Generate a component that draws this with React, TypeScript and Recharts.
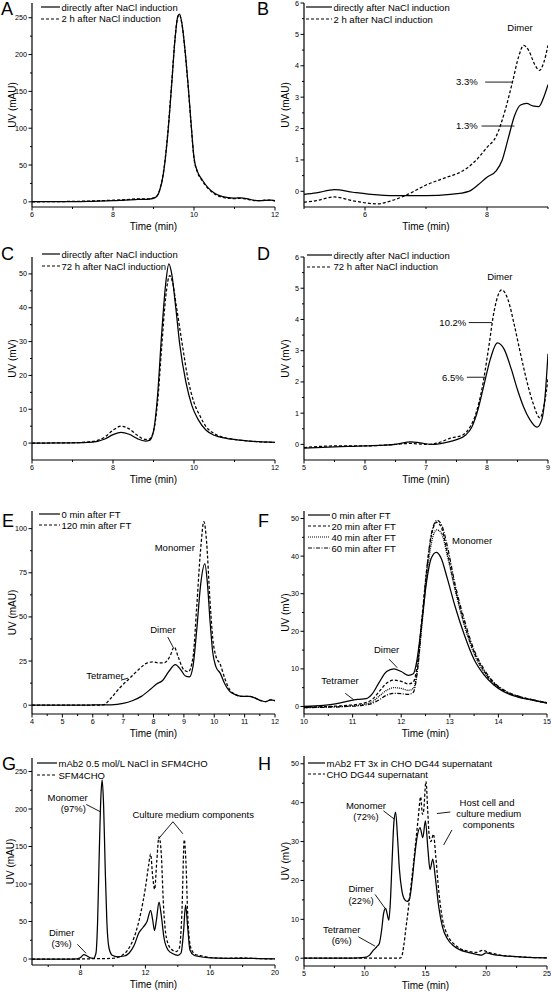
import React from 'react';
import { LineChart, Line, XAxis, YAxis, ReferenceLine, ReferenceDot } from 'recharts';

const FONT = '"Liberation Sans", Arial, Helvetica, sans-serif';
type P = [number, number];

// ---------- Panel A ----------
const aLegend = ['directly after NaCl induction', '2 h after NaCl induction'];
const aDirect: P[] = [[6,0.3],[6.5,0.2],[7,0.3],[7.5,0.8],[8,1.5],[8.3,2.5],[8.6,3.2],[8.9,3.8],[9.05,6],[9.15,15],[9.25,40],[9.35,90],[9.45,160],[9.53,220],[9.6,252],[9.64,255],[9.7,243],[9.78,205],[9.86,155],[9.93,105],[10.0,60],[10.08,42],[10.2,30],[10.35,19],[10.5,12],[10.65,8],[10.8,6],[11.0,5],[11.15,5.5],[11.3,4.5],[11.45,2.5],[11.6,1.5],[11.75,2],[11.9,2.2],[12,1]];
const a2h: P[] = [[6,0],[6.5,0.3],[7,0.6],[7.5,1.2],[8,2.2],[8.3,3],[8.6,4],[8.9,4.2],[9.05,6.5],[9.15,16],[9.25,42],[9.35,92],[9.45,162],[9.53,221],[9.6,251],[9.64,254],[9.7,242],[9.78,204],[9.86,154],[9.93,104],[10.0,59],[10.08,41],[10.2,29],[10.35,18],[10.5,11],[10.65,7],[10.8,5],[11.0,4.5],[11.15,4.8],[11.3,3.5],[11.45,2],[11.6,1.5],[11.75,2.2],[11.9,2.5],[12,1.5]];

// ---------- Panel B ----------
const bDirect: P[] = [[5.0,-0.1],[5.2,-0.05],[5.5,0.05],[5.8,-0.03],[6.1,-0.1],[6.5,-0.14],[7.0,-0.14],[7.4,-0.1],[7.7,0.0],[7.85,0.2],[8.0,0.45],[8.15,0.65],[8.25,1.0],[8.35,1.7],[8.45,2.4],[8.55,2.75],[8.65,2.8],[8.75,2.72],[8.85,2.7],[8.93,3.0],[9.0,3.4]];
const b2h: P[] = [[5.0,-0.35],[5.2,-0.3],[5.5,-0.18],[5.8,-0.3],[6.2,-0.4],[6.4,-0.32],[6.7,-0.1],[7.0,0.2],[7.3,0.42],[7.6,0.65],[7.8,0.95],[8.0,1.4],[8.15,1.75],[8.3,2.6],[8.42,3.5],[8.52,4.3],[8.6,4.65],[8.68,4.5],[8.78,4.05],[8.86,3.85],[8.93,4.1],[9.0,4.65]];

// ---------- Panel C ----------
const cLegend = ['directly after NaCl induction', '72 h after NaCl induction'];
const cDirect: P[] = [[6,0],[7,0.05],[7.5,0.3],[7.8,1.2],[8.0,2.5],[8.2,3.2],[8.4,2.6],[8.6,1.3],[8.8,0.6],[8.9,0.8],[9.0,3.5],[9.1,14],[9.2,32],[9.3,47],[9.38,53],[9.45,50],[9.55,40],[9.65,29],[9.8,18],[9.95,11],[10.1,7],[10.3,3.8],[10.5,2.3],[10.8,1.4],[11.2,0.8],[11.6,0.4],[12,0.2]];
const c72h: P[] = [[6,0],[7,0.1],[7.5,0.5],[7.8,1.8],[8.0,3.8],[8.2,5],[8.4,4.2],[8.6,2.3],[8.8,1.1],[8.9,1.2],[9.0,3.5],[9.1,12],[9.2,28],[9.3,43],[9.4,49.5],[9.47,47.5],[9.57,40],[9.7,30],[9.85,19],[10.0,12],[10.15,8],[10.3,4.8],[10.5,2.8],[10.8,1.5],[11.2,0.8],[11.6,0.4],[12,0.2]];

// ---------- Panel D ----------
const dDirect: P[] = [[5,-0.12],[5.5,-0.08],[6,-0.05],[6.5,0.0],[6.75,0.08],[6.9,0.05],[7.1,0.0],[7.3,0.05],[7.5,0.15],[7.65,0.3],[7.75,0.55],[7.85,1.1],[7.95,1.9],[8.05,2.7],[8.17,3.25],[8.28,3.05],[8.4,2.4],[8.5,1.75],[8.6,1.2],[8.7,0.8],[8.82,0.55],[8.9,0.8],[8.95,1.5],[9.0,2.9]];
const d72h: P[] = [[5,-0.1],[5.5,-0.05],[6,-0.05],[6.5,0.0],[6.75,0.03],[7.0,0.0],[7.2,0.05],[7.4,0.2],[7.6,0.3],[7.72,0.55],[7.82,1.0],[7.92,1.8],[8.02,3.0],[8.12,4.3],[8.24,4.95],[8.35,4.6],[8.45,3.8],[8.55,2.9],[8.65,2.05],[8.75,1.35],[8.87,0.85],[8.94,1.3],[9.0,2.1]];

// ---------- Panel E ----------
const eLegend = ['0 min after FT', '120 min after FT'];
const e0: P[] = [[4,0],[5,0],[6,0.1],[6.6,0.2],[7.0,1],[7.3,2.5],[7.6,5],[7.9,9],[8.1,12],[8.3,14],[8.5,19],[8.72,23],[8.9,20],[9.05,16.5],[9.18,16],[9.3,22],[9.42,42],[9.55,68],[9.69,80],[9.78,68],[9.86,48],[9.95,30],[10.05,22],[10.2,18],[10.35,12],[10.5,8],[10.7,6],[10.9,5],[11.15,5],[11.35,4],[11.55,2.5],[11.7,2],[11.85,3],[12,2.5]];
const e120: P[] = [[4,0],[5,0],[6,0],[6.35,0.2],[6.6,4],[6.9,10],[7.2,15],[7.5,20],[7.8,24],[8.0,24.5],[8.15,24],[8.35,24],[8.55,28],[8.68,33],[8.82,27],[9.0,20],[9.15,19],[9.3,27],[9.42,55],[9.55,88],[9.66,104],[9.75,92],[9.85,62],[9.95,38],[10.05,28],[10.2,23],[10.35,15],[10.5,9],[10.7,6],[10.9,5],[11.15,5],[11.35,4],[11.55,2.5],[11.7,2],[11.85,3],[12,2.5]];

// ---------- Panel F ----------
const fLegend = ['0 min after FT', '20 min after FT', '40 min after FT', '60 min after FT'];
const f0: P[] = [[10,0],[10.4,0.3],[10.7,0.8],[10.9,1.4],[11.1,1.9],[11.28,2.1],[11.4,3.3],[11.55,6.5],[11.7,9.3],[11.85,10],[12.0,9.3],[12.15,8.3],[12.25,8.7],[12.32,12],[12.42,22],[12.52,33],[12.62,39.5],[12.72,41],[12.82,39.5],[12.95,34],[13.1,27],[13.3,19],[13.5,12.5],[13.7,8.5],[13.9,5.8],[14.1,4],[14.4,2.5],[14.7,1.7],[15,0.9]];
const f20: P[] = [[10,-0.2],[10.5,0],[10.9,0.3],[11.2,0.8],[11.4,1.8],[11.55,4],[11.7,6.2],[11.85,7],[12.0,6.7],[12.15,6],[12.25,6.5],[12.33,11],[12.43,24],[12.53,37],[12.63,46],[12.73,49],[12.83,47.5],[12.95,41],[13.1,32],[13.3,22],[13.5,14.5],[13.7,9.5],[13.9,6.3],[14.1,4.3],[14.4,2.7],[14.7,1.8],[15,1]];
const f40: P[] = [[10,-0.3],[10.5,-0.1],[10.9,0.1],[11.2,0.5],[11.4,1.2],[11.55,2.8],[11.7,4.3],[11.85,5],[12.0,4.8],[12.15,4.3],[12.25,4.8],[12.33,9.5],[12.43,22],[12.53,35],[12.63,44],[12.73,47],[12.83,46],[12.95,40],[13.1,31.5],[13.3,21.5],[13.5,14],[13.7,9.2],[13.9,6.1],[14.1,4.2],[14.4,2.6],[14.7,1.7],[15,0.9]];
const f60: P[] = [[10,-0.3],[10.5,-0.2],[10.9,0],[11.2,0.3],[11.4,0.8],[11.55,1.8],[11.7,3],[11.85,3.5],[12.0,3.4],[12.15,3.2],[12.25,3.8],[12.33,9],[12.43,23],[12.53,37],[12.63,46.5],[12.74,49.5],[12.84,48],[12.96,42],[13.1,33],[13.3,23],[13.5,15],[13.7,10],[13.9,6.5],[14.1,4.5],[14.4,2.8],[14.7,1.8],[15,1]];

// ---------- Panel G ----------
const gLegend = ['mAb2 0.5 mol/L NaCl in SFM4CHO', 'SFM4CHO'];
const gMab: P[] = [[5,0],[6,0],[7,0],[7.8,0.3],[8.0,2],[8.2,5.8],[8.4,4],[8.6,1.5],[8.8,1],[8.95,8],[9.05,50],[9.15,140],[9.25,215],[9.33,239],[9.42,205],[9.52,120],[9.62,50],[9.75,15],[9.95,5],[10.3,3],[10.7,4],[11.0,8],[11.3,18],[11.6,35],[11.85,42],[12.1,50],[12.32,65],[12.45,52],[12.56,38],[12.68,52],[12.84,76],[12.98,58],[13.15,28],[13.4,12],[13.7,7],[14.0,5],[14.2,8],[14.35,35],[14.48,72],[14.6,45],[14.75,12],[15.0,5],[15.4,3],[16,1.5],[17,1],[18,1],[19,0.5],[20,0]];
const gMedium: P[] = [[5,0],[7,0],[8,0],[9,0.5],[9.5,0.5],[10,1],[10.5,4],[11.0,15],[11.4,35],[11.7,60],[12.0,95],[12.2,125],[12.32,140],[12.45,110],[12.57,93],[12.7,130],[12.84,163],[12.98,140],[13.12,70],[13.3,28],[13.6,13],[13.9,10],[14.1,15],[14.25,60],[14.4,159],[14.5,130],[14.62,55],[14.8,15],[15.1,6],[15.5,4],[16,2],[17,1],[18,1.5],[19,0.5],[20,0]];

// ---------- Panel H ----------
const hLegend = ['mAb2 FT 3x in CHO DG44 supernatant', 'CHO DG44 supernatant'];
const hMab: P[] = [[5,0],[7,0],[9,0],[10,0.2],[10.4,0.8],[10.7,2],[11.0,3],[11.2,3.8],[11.4,7.5],[11.55,11.5],[11.72,12.8],[11.87,11],[11.98,9.8],[12.1,14],[12.25,25],[12.4,35],[12.54,37.6],[12.7,31],[12.85,23],[13.05,17.5],[13.3,15],[13.5,14.6],[13.7,15.5],[13.9,20],[14.1,26],[14.3,31],[14.55,33.6],[14.78,31],[14.99,35.3],[15.2,28],[15.37,22.8],[15.6,25.5],[15.8,21],[16.1,13],[16.4,8],[16.8,5],[17.3,3.2],[17.8,2.2],[18.5,1.5],[19.2,1],[19.6,0.8],[20.0,1.4],[20.5,1.0],[21.5,0.6],[23,0.3],[25,0.1]];
const hSup: P[] = [[5,0],[8,0],[12.9,0],[13.05,0.5],[13.2,3],[13.4,8],[13.6,13],[13.8,18.5],[14.0,24],[14.2,30],[14.4,36],[14.6,41.5],[14.75,37],[14.85,38],[15.04,45.5],[15.18,38],[15.3,31.7],[15.45,30],[15.65,31.9],[15.85,26],[16.1,17],[16.4,10],[16.8,6],[17.3,3.8],[17.8,2.6],[18.5,1.8],[19.2,1.5],[19.7,2.0],[20.2,1.5],[21,0.9],[22,0.5],[23,0.3],[25,0.1]];

// ---------- styles ----------
const SOLID = '';
const DASHED = '3 2';
const DOTTED = '1 1';
const DASHDOT = '4 1.5 1 1.5';

interface Series { name: string; data: P[]; dash: string }
interface Note { x: number; y: number; text: string }
interface Seg { x1: number; y1: number; x2: number; y2: number }
interface PanelCfg {
  letter: string; letterX: number; letterY: number;
  x1: number; x2: number; y1: number; y2: number; left: number;
  xDomain: [number, number]; yDomain: [number, number];
  xMajor: number[]; xMinor: number[]; yMajor: number[]; yMinor: number[];
  yTitle: string; titleX: number;
  series: Series[];
  legX: number; legY: number; legW: number; legH: number;
  notes: Note[]; segs: Seg[];
}

const range = (a: number, b: number, s: number) => {
  const out: number[] = [];
  for (let v = a; v <= b + 1e-9; v += s) out.push(Math.round(v * 1000) / 1000);
  return out;
};

const panels: PanelCfg[] = [
  {
    letter: 'A', letterX: 1, letterY: 15, left: 0,
    x1: 32, x2: 275, y1: 3, y2: 207,
    xDomain: [6, 12], yDomain: [-7, 270],
    xMajor: [6, 8, 10, 12], xMinor: [7, 9, 11], yMajor: range(0, 250, 50), yMinor: range(25, 225, 50),
    yTitle: 'UV (mAU)', titleX: 12,
    series: [{ name: aLegend[0], data: aDirect, dash: SOLID }, { name: aLegend[1], data: a2h, dash: DASHED }],
    legX: 41, legY: 7, legW: 19, legH: 11.5,
    notes: [], segs: [],
  },
  {
    letter: 'B', letterX: 257, letterY: 15, left: 277,
    x1: 304, x2: 548, y1: 3, y2: 207,
    xDomain: [5, 9], yDomain: [-0.5, 6],
    xMajor: [6, 8], xMinor: [5, 7, 9], yMajor: range(0, 6, 1), yMinor: range(0.5, 5.5, 1),
    yTitle: 'UV (mAU)', titleX: 285,
    series: [{ name: aLegend[0], data: bDirect, dash: SOLID }, { name: aLegend[1], data: b2h, dash: DASHED }],
    legX: 306, legY: 7, legW: 26, legH: 12,
    notes: [{ x: 8.54, y: 5.2, text: 'Dimer' }, { x: 7.67, y: 3.48, text: '3.3%' }, { x: 7.67, y: 2.08, text: '1.3%' }],
    segs: [{ x1: 7.97, y1: 3.48, x2: 8.41, y2: 3.48 }, { x1: 7.91, y1: 2.08, x2: 8.45, y2: 2.08 }],
  },
  {
    letter: 'C', letterX: 1, letterY: 260, left: 0,
    x1: 32, x2: 275, y1: 257, y2: 460,
    xDomain: [6, 12], yDomain: [-5, 55],
    xMajor: [6, 8, 10, 12], xMinor: [7, 9, 11], yMajor: range(0, 50, 10), yMinor: range(5, 45, 10),
    yTitle: 'UV (mV)', titleX: 12,
    series: [{ name: cLegend[0], data: cDirect, dash: SOLID }, { name: cLegend[1], data: c72h, dash: DASHED }],
    legX: 42, legY: 254, legW: 18, legH: 12,
    notes: [], segs: [],
  },
  {
    letter: 'D', letterX: 257, letterY: 260, left: 277,
    x1: 304, x2: 548, y1: 257, y2: 460,
    xDomain: [5, 9], yDomain: [-0.5, 6],
    xMajor: [5, 6, 7, 8, 9], xMinor: [5.5, 6.5, 7.5, 8.5], yMajor: range(0, 6, 1), yMinor: range(0.5, 5.5, 1),
    yTitle: 'UV (mV)', titleX: 285,
    series: [{ name: cLegend[0], data: dDirect, dash: SOLID }, { name: cLegend[1], data: d72h, dash: DASHED }],
    legX: 307, legY: 255, legW: 25, legH: 11.5,
    notes: [{ x: 8.21, y: 5.38, text: 'Dimer' }, { x: 7.44, y: 3.9, text: '10.2%' }, { x: 7.44, y: 2.15, text: '6.5%' }],
    segs: [{ x1: 7.7, y1: 3.9, x2: 8.08, y2: 3.9 }, { x1: 7.67, y1: 2.15, x2: 7.97, y2: 2.15 }],
  },
  {
    letter: 'E', letterX: 2, letterY: 527, left: 0,
    x1: 32, x2: 275, y1: 511, y2: 714,
    xDomain: [4, 12], yDomain: [-5, 110],
    xMajor: range(4, 12, 1), xMinor: range(4.5, 11.5, 1), yMajor: [0, 25, 50, 75, 100], yMinor: [12.5, 37.5, 62.5, 87.5],
    yTitle: 'UV (mAU)', titleX: 12,
    series: [{ name: eLegend[0], data: e0, dash: SOLID }, { name: eLegend[1], data: e120, dash: DASHED }],
    legX: 39, legY: 514, legW: 21, legH: 11,
    notes: [{ x: 8.7, y: 89, text: 'Monomer' }, { x: 8.31, y: 43, text: 'Dimer' }, { x: 6.4, y: 16.5, text: 'Tetramer' }],
    segs: [{ x1: 8.47, y1: 38.6, x2: 8.64, y2: 33 }, { x1: 6.93, y1: 14.2, x2: 7.16, y2: 15.3 }],
  },
  {
    letter: 'F', letterX: 258, letterY: 527, left: 277,
    x1: 304, x2: 547, y1: 510.5, y2: 713.5,
    xDomain: [10, 15], yDomain: [-2, 52],
    xMajor: range(10, 15, 1), xMinor: range(10.5, 14.5, 1), yMajor: range(0, 50, 10), yMinor: range(5, 45, 10),
    yTitle: 'UV (mV)', titleX: 285,
    series: [
      { name: fLegend[0], data: f0, dash: SOLID }, { name: fLegend[1], data: f20, dash: DASHED },
      { name: fLegend[2], data: f40, dash: DOTTED }, { name: fLegend[3], data: f60, dash: DASHDOT },
    ],
    legX: 308, legY: 515, legW: 22, legH: 11,
    notes: [{ x: 13.46, y: 44, text: 'Monomer' }, { x: 11.7, y: 15, text: 'Dimer' }, { x: 10.74, y: 6.9, text: 'Tetramer' }],
    segs: [{ x1: 11.75, y1: 12.6, x2: 11.92, y2: 10.3 }, { x1: 10.85, y1: 3.5, x2: 11.02, y2: 1.8 }],
  },
  {
    letter: 'G', letterX: 2, letterY: 770, left: 0,
    x1: 32, x2: 275, y1: 758, y2: 965,
    xDomain: [5, 20], yDomain: [-8, 268],
    xMajor: [8, 12, 16, 20], xMinor: [6, 10, 14, 18], yMajor: range(0, 250, 50), yMinor: range(25, 225, 50),
    yTitle: 'UV (mAU)', titleX: 10,
    series: [{ name: gLegend[0], data: gMab, dash: SOLID }, { name: gLegend[1], data: gMedium, dash: DASHED }],
    legX: 37, legY: 763, legW: 20, legH: 12,
    notes: [
      { x: 7.2, y: 215, text: 'Monomer' }, { x: 7.55, y: 200, text: '(97%)' },
      { x: 14.95, y: 192.5, text: 'Culture medium components' },
      { x: 6.83, y: 35, text: 'Dimer' }, { x: 6.83, y: 20, text: '(3%)' },
    ],
    segs: [
      { x1: 8.35, y1: 206, x2: 9.25, y2: 196 },
      { x1: 13.7, y1: 183, x2: 12.8, y2: 160 }, { x1: 13.7, y1: 183, x2: 14.31, y2: 167 },
      { x1: 7.8, y1: 19.6, x2: 8.34, y2: 7.6 },
    ],
  },
  {
    letter: 'H', letterX: 258, letterY: 770, left: 277,
    x1: 304, x2: 547, y1: 756, y2: 966,
    xDomain: [5, 25], yDomain: [-2, 52],
    xMajor: [5, 10, 15, 20, 25], xMinor: [7.5, 12.5, 17.5, 22.5], yMajor: range(0, 50, 10), yMinor: range(5, 45, 10),
    yTitle: 'UV (mV)', titleX: 285,
    series: [{ name: hLegend[0], data: hMab, dash: SOLID }, { name: hLegend[1], data: hSup, dash: DASHED }],
    legX: 308, legY: 763, legW: 17, legH: 11,
    notes: [
      { x: 10.1, y: 39.2, text: 'Monomer' }, { x: 10.1, y: 36.3, text: '(72%)' },
      { x: 9.7, y: 17.8, text: 'Dimer' }, { x: 9.7, y: 14.9, text: '(22%)' },
      { x: 8.1, y: 7.4, text: 'Tetramer' }, { x: 8.1, y: 4.6, text: '(6%)' },
      { x: 20.06, y: 39.9, text: 'Host cell and' }, { x: 20.2, y: 37.1, text: 'culture medium' }, { x: 20.2, y: 34.3, text: 'components' },
    ],
    segs: [
      { x1: 11.54, y1: 37.9, x2: 12.42, y2: 35.8 },
      { x1: 10.85, y1: 16.4, x2: 11.68, y2: 12.8 },
      { x1: 9.48, y1: 5.5, x2: 10.85, y2: 3.1 },
      { x1: 15.94, y1: 37.2, x2: 17.04, y2: 37.6 },
      { x1: 16.49, y1: 29.1, x2: 17.18, y2: 33 },
    ],
  },
];

const near = (arr: number[], v: number) => arr.some((m) => Math.abs(m - v) < 1e-6);

const makeXTick = (majors: number[]) => (props: any) => {
  const { x, y, payload } = props;
  const major = near(majors, payload.value);
  return (
    <g>
      <line x1={x} y1={y} x2={x} y2={y + (major ? 3.5 : 2)} stroke="#000" strokeWidth={1} />
      {major && (
        <text x={x} y={y + 10} textAnchor="middle" fontSize={7.2} fill="#000" fontFamily={FONT}>
          {payload.value}
        </text>
      )}
    </g>
  );
};

const makeYTick = (majors: number[]) => (props: any) => {
  const { x, y, payload } = props;
  const major = near(majors, payload.value);
  return (
    <g>
      <line x1={x} y1={y} x2={x - (major ? 3.5 : 2)} y2={y} stroke="#000" strokeWidth={1} />
      {major && (
        <text x={x - 5} y={y} dy="0.35em" textAnchor="end" fontSize={7.2} fill="#000" fontFamily={FONT}>
          {payload.value}
        </text>
      )}
    </g>
  );
};

const MT = 6;
const MR = 6;
const XH = 32;

function Panel({ c }: { c: PanelCfg }) {
  const YW = c.x1 - c.left;
  const width = YW + (c.x2 - c.x1) + MR;
  const height = MT + (c.y2 - c.y1) + XH;
  const xTicks = [...c.xMajor, ...c.xMinor].sort((a, b) => a - b);
  const yTicks = [...c.yMajor, ...c.yMinor].sort((a, b) => a - b);
  return (
    <div style={{ position: 'absolute', left: c.left, top: c.y1 - MT, width, height }}>
      <LineChart width={width} height={height} margin={{ top: MT, right: MR, bottom: 0, left: 0 }}>
        <XAxis
          type="number" dataKey="x" domain={c.xDomain} allowDataOverflow ticks={xTicks} interval={0}
          height={XH} tickSize={0} tickMargin={0} tick={makeXTick(c.xMajor)} tickLine={false}
          axisLine={{ stroke: '#000', strokeWidth: 1.2 }}
          label={{ value: 'Time (min)', position: 'insideTop', offset: 16, fontSize: 10, fill: '#000', fontFamily: FONT }}
        />
        <YAxis
          type="number" domain={c.yDomain} allowDataOverflow ticks={yTicks} interval={0}
          width={YW} tickSize={0} tickMargin={0} tick={makeYTick(c.yMajor)} tickLine={false}
          axisLine={{ stroke: '#000', strokeWidth: 1.2 }}
          label={{ value: c.yTitle, angle: -90, position: 'center', dx: c.titleX - (c.left + YW / 2), fontSize: 10, fill: '#000', fontFamily: FONT }}
        />
        {c.series.map((s, i) => (
          <Line
            key={i}
            data={s.data.map(([x, y]) => ({ x, y }))}
            dataKey="y"
            type="monotone"
            dot={false}
            activeDot={false}
            stroke="#000"
            strokeWidth={1.25}
            strokeDasharray={s.dash || undefined}
            isAnimationActive={false}
          />
        ))}
        {c.segs.map((s, i) => (
          <ReferenceLine key={'s' + i} segment={[{ x: s.x1, y: s.y1 }, { x: s.x2, y: s.y2 }]} stroke="#000" strokeWidth={0.9} ifOverflow="visible" />
        ))}
        {c.notes.map((n, i) => (
          <ReferenceDot
            key={'n' + i} x={n.x} y={n.y} r={0} fill="none" stroke="none" ifOverflow="visible"
            label={{ value: n.text, position: 'center', fontSize: 9.5, fill: '#000', fontFamily: FONT }}
          />
        ))}
      </LineChart>
    </div>
  );
}

function Legend({ c }: { c: PanelCfg }) {
  return (
    <>
      {c.series.map((s, i) => (
        <div
          key={i}
          style={{
            position: 'absolute', left: c.legX, top: c.legY + i * c.legH - c.legH / 2, height: c.legH,
            display: 'flex', alignItems: 'center', whiteSpace: 'nowrap', fontSize: 9.5, fontFamily: FONT, color: '#000',
          }}
        >
          <svg width={c.legW} height={4} style={{ display: 'block' }}>
            <line x1={0} y1={2} x2={c.legW} y2={2} stroke="#000" strokeWidth={1.2} strokeDasharray={s.dash || undefined} />
          </svg>
          <span style={{ marginLeft: 1.5 }}>{s.name}</span>
        </div>
      ))}
    </>
  );
}

export default function App() {
  return (
    <div style={{ position: 'absolute', left: 0, top: 0, width: 551, height: 993, background: '#fff', overflow: 'hidden', fontFamily: FONT }}>
      {panels.map((c) => (
        <Panel key={c.letter} c={c} />
      ))}
      {panels.map((c) => (
        <Legend key={'l' + c.letter} c={c} />
      ))}
      <svg width={551} height={993} style={{ position: 'absolute', left: 0, top: 0, pointerEvents: 'none' }}>
        {panels.map((c) => (
          <text key={'t' + c.letter} x={c.letterX} y={c.letterY} fontSize={18} fill="#000" fontFamily={FONT}>
            {c.letter}
          </text>
        ))}
      </svg>
    </div>
  );
}
